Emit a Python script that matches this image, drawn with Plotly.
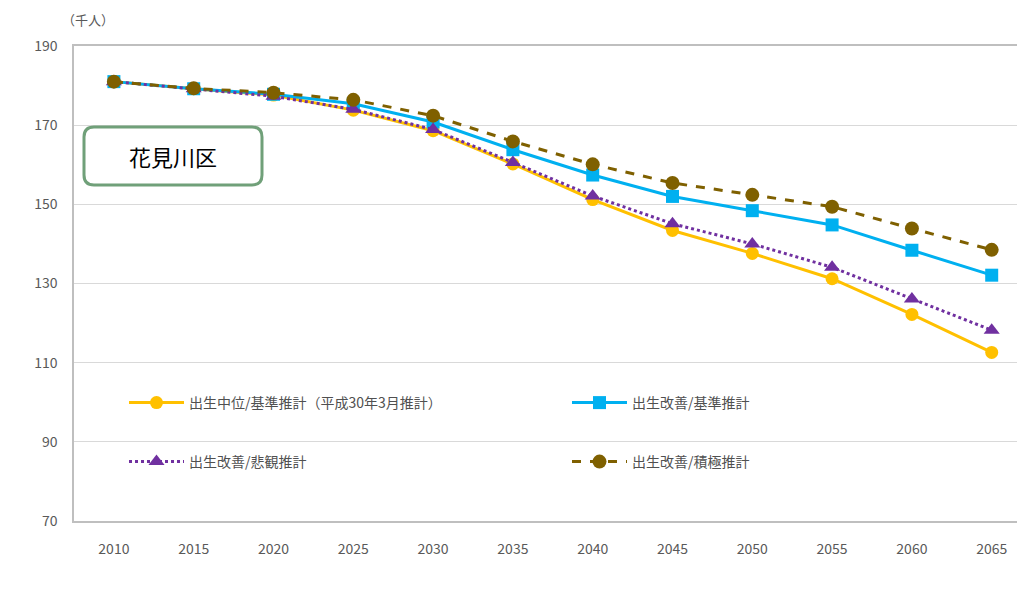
import plotly.graph_objects as go

years = ["2010", "2015", "2020", "2025", "2030", "2035", "2040", "2045", "2050", "2055", "2060", "2065"]
s_chui = [181.0, 179.2, 177.6, 173.8, 168.6, 160.2, 151.2, 143.4, 137.6, 131.2, 122.2, 112.6]
s_kizyun = [181.0, 179.2, 177.8, 175.4, 170.8, 163.8, 157.4, 152.0, 148.4, 144.8, 138.4, 132.1]
s_hikan = [181.0, 179.2, 177.3, 174.0, 168.9, 160.6, 152.1, 145.1, 140.0, 134.1, 126.1, 118.2]
s_sekkyoku = [181.0, 179.3, 178.2, 176.4, 172.4, 165.9, 160.1, 155.4, 152.4, 149.4, 143.9, 138.5]
names = ["出生中位/基準推計（平成30年3月推計）", "出生改善/基準推計", "出生改善/悲観推計", "出生改善/積極推計"]
y_ticks = [70, 90, 110, 130, 150, 170, 190]

# page has an 8px body margin; plan in page pixels
OFF = 8
PW, PH = 1025, 594
W, H = PW - OFF, PH - OFF
plot_l, plot_r, plot_t, plot_b = 74, 1021, 46, 521
ml, mr, mt, mb = plot_l - OFF, PW - plot_r, plot_t - OFF, PH - plot_b
pw, ph = plot_r - plot_l, plot_b - plot_t
cat_w = 79.8  # category spacing in px; chart continues past the right edge
x_range = [-0.5, -0.5 + pw / cat_w]

FONT = "Noto Sans CJK JP"
fig = go.Figure()
fig.add_trace(go.Scatter(x=years, y=s_chui, name=names[0], mode="lines+markers",
                         line=dict(color="#FFC000", width=3), marker=dict(symbol="circle", size=13, color="#FFC000"),
                         legend="legend"))
fig.add_trace(go.Scatter(x=years, y=s_kizyun, name=names[1], mode="lines+markers",
                         line=dict(color="#00B0F0", width=3), marker=dict(symbol="square", size=13, color="#00B0F0"),
                         legend="legend2"))
fig.add_trace(go.Scatter(x=years, y=s_hikan, name=names[2], mode="lines+markers",
                         line=dict(color="#7030A0", width=3, dash="dot"), marker=dict(symbol="triangle-up", size=14, color="#7030A0"),
                         legend="legend3"))
fig.add_trace(go.Scatter(x=years, y=s_sekkyoku, name=names[3], mode="lines+markers",
                         line=dict(color="#7F6000", width=3, dash="dash"), marker=dict(symbol="circle", size=14, color="#7F6000"),
                         legend="legend4"))

def px2paper(x, y):
    return (x - plot_l) / pw, (plot_b - y) / ph

# rounded label box
x0, y0, x1, y1, r = 84, 127, 262, 185, 10
def P(x, y):
    a, b = px2paper(x, y)
    return f"{a:.5f},{b:.5f}"
path = (f"M {P(x0 + r, y0)} L {P(x1 - r, y0)} Q {P(x1, y0)} {P(x1, y0 + r)} "
        f"L {P(x1, y1 - r)} Q {P(x1, y1)} {P(x1 - r, y1)} L {P(x0 + r, y1)} "
        f"Q {P(x0, y1)} {P(x0, y1 - r)} L {P(x0, y0 + r)} Q {P(x0, y0)} {P(x0 + r, y0)} Z")
fig.add_shape(type="path", xref="paper", yref="paper", path=path,
              line=dict(color="#70A079", width=3), fillcolor="white", layer="above")
cx, cy = px2paper((x0 + x1) / 2, (y0 + y1) / 2)
fig.add_annotation(x=cx, y=cy, xref="paper", yref="paper", text="花見川区", showarrow=False,
                   font=dict(family=FONT, size=22, color="#000000"), xanchor="center", yanchor="middle")
ux, uy = px2paper(88, 20)
fig.add_annotation(x=ux, y=uy, xref="paper", yref="paper", text="（千人）", showarrow=False,
                   font=dict(family=FONT, size=13, color="#595959"), xanchor="center", yanchor="middle")

def leg(xp, yp):
    x, y = px2paper(xp, yp)
    return dict(x=x, y=y, orientation="h", xanchor="left", yanchor="middle", bgcolor="rgba(0,0,0,0)",
                font=dict(family=FONT, size=14, color="#505050"), itemwidth=55, visible=True)

fig.update_layout(
    width=W, height=H, margin=dict(l=ml, r=mr, t=mt, b=mb, autoexpand=False),
    showlegend=True,
    plot_bgcolor="white", paper_bgcolor="white",
    font=dict(family=FONT, color="#595959"),
    legend=leg(124, 403),
    legend2=leg(567, 403),
    legend3=leg(124, 462),
    legend4=leg(567, 462),
    xaxis=dict(type="category", range=x_range, showgrid=False, showline=True,
               linecolor="#BFBFBF", linewidth=1.5, mirror=True,
               ticks="", tickfont=dict(family=FONT, size=14, color="#595959"), ticklabelstandoff=14),
    yaxis=dict(range=[70, 190], tickvals=y_ticks, showgrid=True, gridcolor="#D9D9D9", gridwidth=1,
               showline=True, linecolor="#BFBFBF", linewidth=1.5, mirror=False, zeroline=False,
               ticks="", tickfont=dict(family=FONT, size=14, color="#595959"), ticklabelstandoff=12),
)

fig.write_html("out.html")
